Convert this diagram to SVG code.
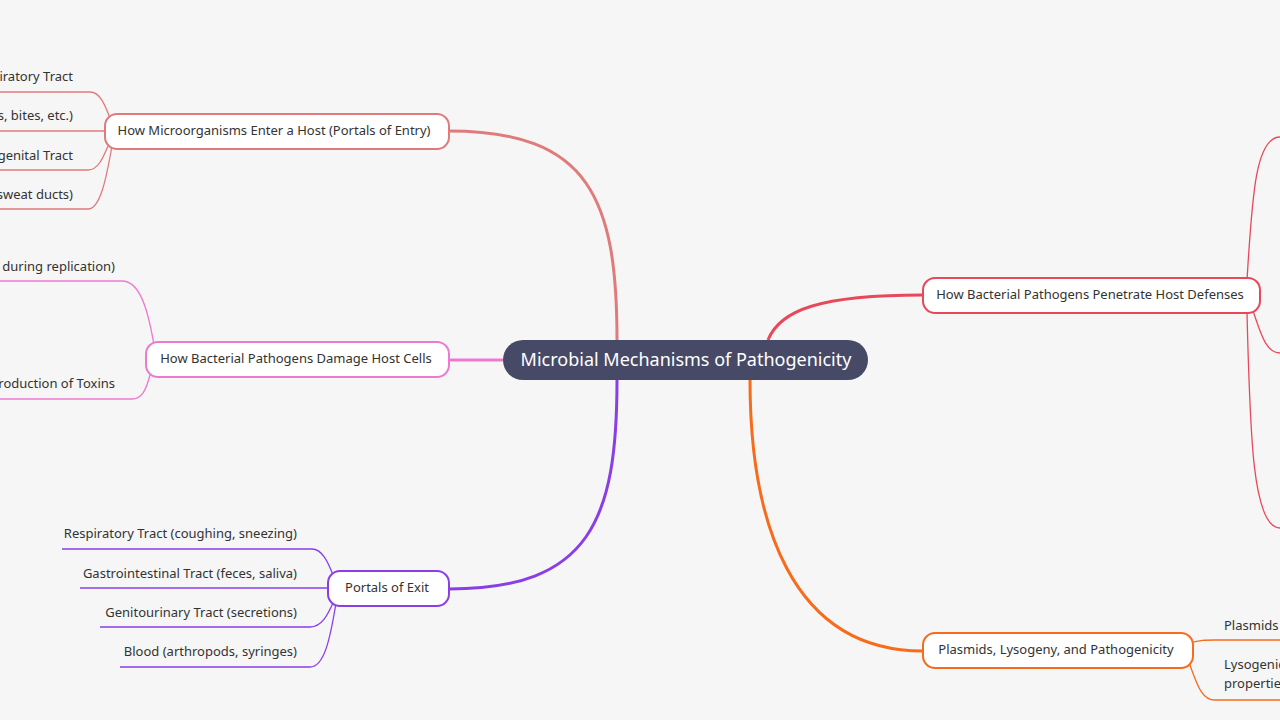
<svg xmlns="http://www.w3.org/2000/svg" width="1280" height="720" viewBox="0 0 1280 720">
<style>
text{font-family:"Source Sans Pro","Noto Sans","Liberation Sans",sans-serif;font-size:13px;fill:#333}
.n{fill:#fff;stroke-width:2}
.c{fill:none;stroke-width:3}
.l{fill:none;stroke-width:1.3}
</style>
<rect width="1280" height="720" fill="#f6f6f6"/>
<g id="connectors">
<path class="c" stroke="#e07b7b" d="M617,340 C617,200 590,131 449,131"/>
<path class="c" stroke="#e8495a" d="M768,340 C780,310 820,295 923,295"/>
<path class="c" stroke="#ee7ad0" d="M449,360 L503,360"/>
<path class="c" stroke="#8a3ee8" d="M617,380 C617,520 590,589 449,589"/>
<path class="c" stroke="#f76b1c" d="M750,380 C750,520 790,651 923,651"/>
<g stroke="#e07b7b" class="l">
<path d="M0,92 H90 C100,92 105,105 110,118"/>
<path d="M0,131 H105"/>
<path d="M0,170 H88 C98,170 103,158 108,146"/>
<path d="M0,209 H88 C100,209 106,180 112,146"/>
</g>
<g stroke="#ee7ad0" class="l">
<path d="M0,281 H122 C140,281 148,310 154,345"/>
<path d="M0,399 H132 C142,399 146,390 150,375"/>
</g>
<g stroke="#8a3ee8" class="l">
<path d="M62,549 H312 C322,549 328,562 333,575"/>
<path d="M80,588 H328"/>
<path d="M100,627 H310 C322,627 328,614 333,603"/>
<path d="M120,667 H310 C324,667 330,640 336,603"/>
</g>
<g stroke="#e8495a" class="l">
<path d="M1247,280 C1252,200 1255,137 1280,137"/>
<path d="M1253,311 C1260,330 1265,353 1280,353"/>
<path d="M1247,313 C1250,430 1252,528 1280,528"/>
</g>
<g stroke="#f76b1c" class="l">
<path d="M1190,643 C1200,640 1205,640 1215,640 H1280"/>
<path d="M1188,660 C1196,680 1200,700 1215,700 H1280"/>
</g>
</g>
<g id="center">
<rect x="503" y="340" width="365" height="40" rx="20" fill="#474a66"/>
<text x="686" y="366" text-anchor="middle" style="font-size:18px;fill:#fff">Microbial Mechanisms of Pathogenicity</text>
</g>
<g id="entry">
<rect class="n" stroke="#e07b7b" x="105" y="114" width="344" height="35" rx="12"/>
<text x="274" y="135" text-anchor="middle">How Microorganisms Enter a Host (Portals of Entry)</text>
<text x="73" y="81" text-anchor="end">iratory Tract</text>
<text x="73" y="120" text-anchor="end">s, bites, etc.)</text>
<text x="73" y="160" text-anchor="end">genital Tract</text>
<text x="73" y="199" text-anchor="end">sweat ducts)</text>
</g>
<g id="damage">
<rect class="n" stroke="#ee7ad0" x="146" y="342" width="303" height="35" rx="12"/>
<text x="296" y="363" text-anchor="middle">How Bacterial Pathogens Damage Host Cells</text>
<text x="115" y="271" text-anchor="end">during replication)</text>
<text x="115" y="388" text-anchor="end">roduction of Toxins</text>
</g>
<g id="exit">
<rect class="n" stroke="#8a3ee8" x="328" y="571" width="121" height="35" rx="12"/>
<text x="387" y="592" text-anchor="middle">Portals of Exit</text>
<text x="297" y="538" text-anchor="end">Respiratory Tract (coughing, sneezing)</text>
<text x="297" y="578" text-anchor="end">Gastrointestinal Tract (feces, saliva)</text>
<text x="297" y="617" text-anchor="end">Genitourinary Tract (secretions)</text>
<text x="297" y="656" text-anchor="end">Blood (arthropods, syringes)</text>
</g>
<g id="penetrate">
<rect class="n" stroke="#e8495a" x="923" y="278" width="337" height="35" rx="12"/>
<text x="1090" y="299" text-anchor="middle">How Bacterial Pathogens Penetrate Host Defenses</text>
</g>
<g id="plasmids">
<rect class="n" stroke="#f76b1c" x="923" y="633" width="270" height="35" rx="12"/>
<text x="1056" y="654" text-anchor="middle">Plasmids, Lysogeny, and Pathogenicity</text>
<text x="1224" y="630">Plasmids</text>
<text x="1224" y="669">Lysogenic</text>
<text x="1224" y="688">properties</text>
</g>
</svg>
